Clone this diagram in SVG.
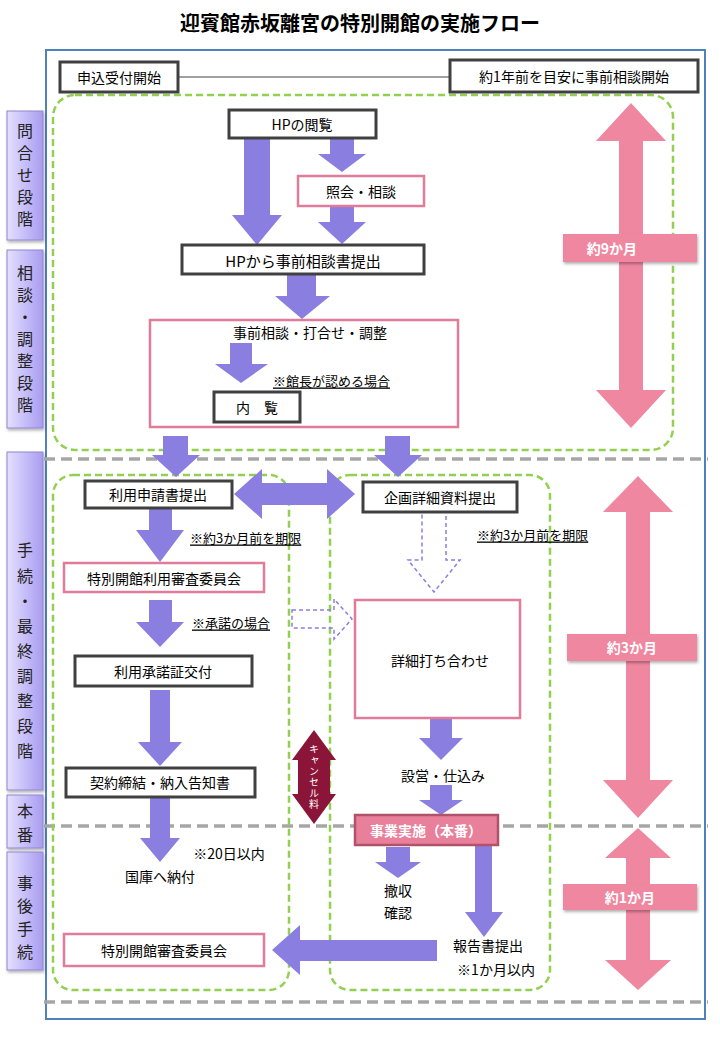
<svg xmlns="http://www.w3.org/2000/svg" width="720" height="1040" viewBox="0 0 720 1040">
<defs>
<linearGradient id="lg" x1="0" y1="0" x2="1" y2="0"><stop offset="0" stop-color="#e4e0ff"/><stop offset="1" stop-color="#a99cf0"/></linearGradient>
<filter id="sh" x="-10%" y="-10%" width="130%" height="140%"><feDropShadow dx="1" dy="2" stdDeviation="1.5" flood-color="#000" flood-opacity="0.3"/></filter>
</defs>
<style>
text{font-family:"Noto Sans CJK JP","Noto Sans CJK SC",sans-serif;font-size:14px;fill:#000;text-anchor:middle;dominant-baseline:central}
.bk{fill:#fff;stroke:#404040;stroke-width:3}
.pk{fill:#fff;stroke:#e07b9a;stroke-width:2.5}
.gd{fill:none;stroke:#92d050;stroke-width:2.5;stroke-dasharray:7,4}
.gy{stroke:#a6a6a6;stroke-width:3.5;stroke-dasharray:11,6}
.pa{fill:#8a7fe0}
.pr{fill:#ef87a0}
.lbl{fill:url(#lg);stroke:#8f86d0;stroke-width:1;filter:url(#sh)}
.vt{font-size:16px;fill:#222}
.u{text-decoration:underline;text-anchor:start;font-size:13px}
.wl{fill:#fff;font-weight:bold;font-size:14px}
.cx{fill:#fff;font-size:10px;writing-mode:vertical-rl;letter-spacing:1px}
</style>
<text x="360" y="22" style="font-size:20px;font-weight:bold">迎賓館赤坂離宮の特別開館の実施フロー</text>
<rect x="46" y="50" width="659" height="969" fill="none" stroke="#4f81bd" stroke-width="2"/>

<g id="labels">
<g id="lab1"><rect class="lbl" x="7" y="111" width="36" height="129"/><text class="vt" x="25" y="130">問</text><text class="vt" x="25" y="152">合</text><text class="vt" x="25" y="174">せ</text><text class="vt" x="25" y="196">段</text><text class="vt" x="25" y="218">階</text></g>
<g id="lab2"><rect class="lbl" x="7" y="250" width="36" height="178"/><text class="vt" x="25" y="272">相</text><text class="vt" x="25" y="294">談</text><text class="vt" x="25" y="316">・</text><text class="vt" x="25" y="338">調</text><text class="vt" x="25" y="360">整</text><text class="vt" x="25" y="382">段</text><text class="vt" x="25" y="404">階</text></g>
<g id="lab3"><rect class="lbl" x="7" y="452" width="36" height="338"/><text class="vt" x="25" y="549">手</text><text class="vt" x="25" y="575">続</text><text class="vt" x="25" y="600">・</text><text class="vt" x="25" y="625">最</text><text class="vt" x="25" y="650">終</text><text class="vt" x="25" y="675">調</text><text class="vt" x="25" y="700">整</text><text class="vt" x="25" y="725">段</text><text class="vt" x="25" y="750">階</text></g>
<g id="lab4"><rect class="lbl" x="7" y="795" width="36" height="53"/><text class="vt" x="25" y="810">本</text><text class="vt" x="25" y="834">番</text></g>
<g id="lab5"><rect class="lbl" x="7" y="852" width="36" height="118"/><text class="vt" x="25" y="882">事</text><text class="vt" x="25" y="905">後</text><text class="vt" x="25" y="928">手</text><text class="vt" x="25" y="951">続</text></g>
</g>

<line class="gy" x1="44" y1="459" x2="708" y2="459"/>
<line class="gy" x1="44" y1="826" x2="708" y2="826"/>
<line class="gy" x1="44" y1="1002" x2="708" y2="1002"/>
<rect class="gd" x="53" y="95" width="620" height="355" rx="22"/>
<rect class="gd" x="53" y="475" width="236" height="515" rx="20"/>
<rect class="gd" x="330" y="475" width="220" height="515" rx="20"/>

<g id="connectors">
<line x1="178" y1="77" x2="450" y2="77" stroke="#404040" stroke-width="1.2"/>
<polygon class="pa" points="244,139 270,139 270,215 282,215 257,245 232,215 244,215"/>
<polygon class="pa" points="330,138 354,138 354,154 366,154 342,172 318,154 330,154"/>
<polygon class="pa" points="330,206 354,206 354,222 366,222 342,244 318,222 330,222"/>
<polygon class="pa" points="287,274 316,274 316,296 330,296 302,319 275,296 287,296"/>
<polygon class="pa" points="230,343 252,343 252,364 268,364 241,383 215,364 230,364"/>
<polygon class="pa" points="163,436 188,436 188,455 200,455 176,477 152,455 163,455"/>
<polygon class="pa" points="385,436 410,436 410,455 422,455 398,477 374,455 385,455"/>
<polygon class="pa" points="234,494 262,469 262,483 327,483 327,469 355,494 327,519 327,505 262,505 262,519"/>
<polygon class="pa" points="149,509 172,509 172,530 184,530 160,562 136,530 149,530"/>
<polygon fill="none" stroke="#8a7fe0" stroke-width="1.5" stroke-dasharray="4,3" points="422,512 446,512 446,560 460,560 434,592 408,560 422,560"/>
<polygon class="pa" points="149,600 172,600 172,622 184,622 160,647 136,622 149,622"/>
<polygon fill="none" stroke="#8a7fe0" stroke-width="1.5" stroke-dasharray="4,3" points="292,610 334,610 334,599 352,619 334,639 334,628 292,628"/>
<polygon class="pa" points="150,690 170,690 170,742 182,742 160,766 138,742 150,742"/>
<polygon class="pa" points="150,797 170,797 170,838 180,838 160,862 140,838 150,838"/>
<polygon fill="#8b1538" points="314,730 336,760 330,760 330,794 336,794 314,824 292,794 298,794 298,760 292,760"/>
<polygon class="pa" points="430,719 452,719 452,738 463,738 441,760 419,738 430,738"/>
<polygon class="pa" points="430,785 452,785 452,800 463,800 441,815 419,800 430,800"/>
<polygon class="pa" points="386,847 410,847 410,862 421,862 398,878 375,862 386,862"/>
<polygon class="pa" points="475,845 492,845 492,912 503,912 484,937 465,912 475,912"/>
<polygon class="pa" points="437,940 300,940 300,925 272,950 300,975 300,961 437,961"/>
<polygon class="pr" points="631,103 666,141 643,141 643,390 666,390 631,428 596,390 619,390 619,141 596,141"/>
<polygon class="pr" points="638,476 673,512 650,512 650,780 673,780 638,818 603,780 626,780 626,512 603,512"/>
<polygon class="pr" points="638,828 671,858 650,858 650,960 671,960 638,990 605,960 626,960 626,858 605,858"/>
</g>

<g id="n1"><rect class="bk" x="60" y="62" width="118" height="30"/><text x="119" y="77">申込受付開始</text></g>
<g id="n2"><rect class="bk" x="450" y="60" width="248" height="32"/><text x="574" y="76">約1年前を目安に事前相談開始</text></g>
<g id="n3"><rect class="bk" x="229" y="110" width="147" height="28"/><text x="302" y="124">HPの閲覧</text></g>
<g id="n4"><rect class="pk" x="298" y="176" width="126" height="30"/><text x="361" y="191">照会・相談</text></g>
<g id="n5"><rect class="bk" x="182" y="245" width="242" height="29"/><text x="303" y="260" style="font-size:15px">HPから事前相談書提出</text></g>
<g id="n6"><rect class="pk" x="150" y="320" width="308" height="107" style="fill:none"/><text x="310" y="332">事前相談・打合せ・調整</text><text class="u" x="273" y="380">※館長が認める場合</text></g>
<g id="n7"><rect class="bk" x="214" y="392" width="86" height="30"/><text x="257" y="407">内　覧</text></g>
<g id="t9"><rect class="pr" x="563" y="234" width="134" height="28" filter="url(#sh)"/><text class="wl" x="612" y="248">約9か月</text></g>
<g id="n8"><rect class="bk" x="85" y="481" width="147" height="27"/><text x="158" y="494">利用申請書提出</text></g>
<g id="n9"><rect class="bk" x="363" y="482" width="154" height="30"/><text x="440" y="497">企画詳細資料提出</text></g>
<text class="u" x="190" y="537">※約3か月前を期限</text>
<text class="u" x="477" y="534">※約3か月前を期限</text>
<g id="n10"><rect class="pk" x="64" y="563" width="200" height="29"/><text x="164" y="578">特別開館利用審査委員会</text></g>
<text class="u" x="192" y="622">※承諾の場合</text>
<g id="n11"><rect class="pk" x="355" y="600" width="165" height="118"/><text x="440" y="660">詳細打ち合わせ</text></g>
<g id="n12"><rect class="bk" x="75" y="656" width="177" height="30"/><text x="163" y="671">利用承諾証交付</text></g>
<g id="n13"><rect class="bk" x="66" y="768" width="189" height="29"/><text x="160" y="782">契約締結・納入告知書</text></g>
<g id="cancel"><text class="cx" x="314" y="777">キャンセル料</text></g>
<text x="443" y="775">設営・仕込み</text>
<g id="n14"><rect x="355" y="815" width="143" height="30" fill="#e9809b" stroke="#b0526a" stroke-width="2.5"/><text class="wl" x="426" y="830">事業実施（本番）</text></g>
<text x="229" y="853">※20日以内</text>
<text x="160" y="876">国庫へ納付</text>
<text x="398" y="890">撤収</text>
<text x="398" y="912">確認</text>
<text x="488" y="945">報告書提出</text>
<text x="496" y="969">※1か月以内</text>
<g id="n15"><rect class="pk" x="64" y="934" width="200" height="32"/><text x="164" y="950">特別開館審査委員会</text></g>
<g id="t3"><rect class="pr" x="567" y="634" width="130" height="27" filter="url(#sh)"/><text class="wl" x="632" y="647">約3か月</text></g>
<g id="t1"><rect class="pr" x="563" y="884" width="134" height="26" filter="url(#sh)"/><text class="wl" x="630" y="897">約1か月</text></g>
</svg>
